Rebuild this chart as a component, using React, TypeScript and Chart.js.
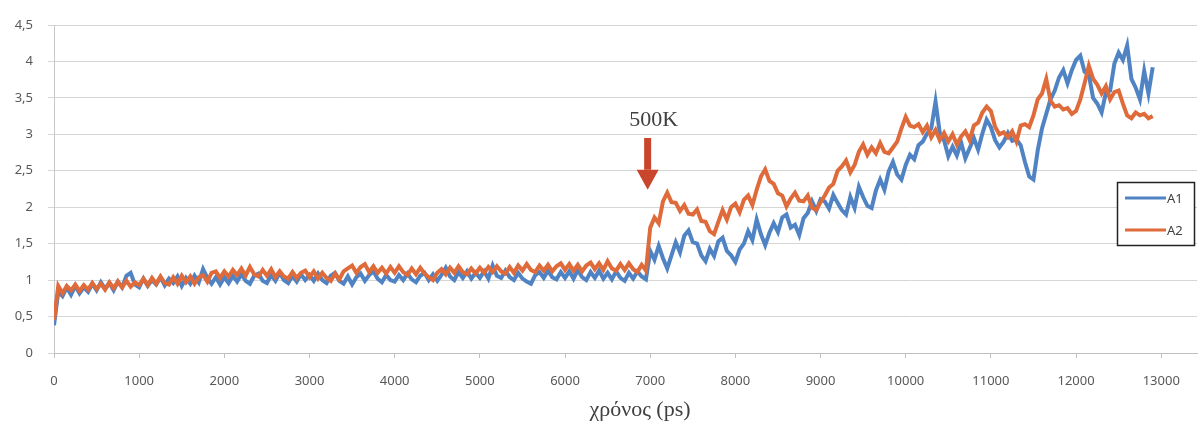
import React, { useEffect, useRef } from "react";
import { Chart, registerables } from "chart.js";

Chart.register(...registerables);

const TIME_STEP_PS = 50;

const A1_VALUES: number[] = [
  // 0 - 950
  0.38, 0.84, 0.78, 0.90, 0.80, 0.92, 0.82, 0.90, 0.84, 0.95, 0.86, 0.97, 0.88, 0.96, 0.86, 0.98, 0.90, 1.06, 1.10, 0.94,
  // 1000 - 1950
  0.90, 1.02, 0.92, 1.00, 0.94, 1.04, 0.93, 1.02, 0.96, 1.05, 0.92, 1.03, 0.95, 1.06, 0.97, 1.15, 1.03, 0.95, 1.04, 0.94,
  // 2000 - 2950
  1.04, 0.96, 1.06, 0.98, 1.08, 0.99, 0.95, 1.06, 1.09, 0.99, 0.96, 1.07, 0.99, 1.10, 1.00, 0.96, 1.06, 0.98, 1.08, 1.00,
  // 3000 - 3950
  1.07, 0.99, 1.09, 1.00, 0.96, 1.06, 1.10, 0.99, 0.95, 1.05, 0.94, 1.04, 1.09, 0.99, 1.07, 1.12, 1.02, 0.97, 1.07, 1.00,
  // 4000 - 4950
  0.98, 1.07, 1.00, 1.09, 1.01, 0.97, 1.06, 1.10, 1.00, 1.08, 0.99, 1.07, 1.17, 1.05, 1.00, 1.11, 1.03, 1.12, 1.02, 1.10,
  // 5000 - 5950
  1.03, 1.12, 1.02, 1.20, 1.06, 1.03, 1.13, 1.04, 1.00, 1.10, 1.02, 0.98, 0.95, 1.07, 1.11, 1.03, 1.13, 1.04, 1.01, 1.11,
  // 6000 - 6950
  1.03, 1.12, 1.02, 1.14, 1.04, 1.00, 1.11, 1.03, 1.13, 1.02, 1.10, 1.01, 1.12, 1.03, 0.99, 1.10, 1.02, 1.12, 1.05, 1.01,
  // 7000 - 7950
  1.40, 1.28, 1.47, 1.30, 1.16, 1.34, 1.52, 1.38, 1.61, 1.68, 1.52, 1.50, 1.34, 1.26, 1.43, 1.33, 1.53, 1.58, 1.40, 1.34,
  // 8000 - 8950
  1.25, 1.42, 1.50, 1.67, 1.55, 1.83, 1.63, 1.48, 1.65, 1.78, 1.66, 1.86, 1.90, 1.72, 1.76, 1.62, 1.85, 1.92, 2.08, 1.95,
  // 9000 - 9950
  2.11, 2.08, 1.98, 2.17, 2.06, 1.96, 1.90, 2.14, 1.99, 2.28, 2.14, 2.02, 1.99, 2.23, 2.38, 2.24, 2.49, 2.62, 2.45, 2.38,
  // 10000 - 10950
  2.58, 2.72, 2.66, 2.85, 2.90, 3.01, 3.08, 3.45, 3.02, 2.92, 2.70, 2.83, 2.71, 2.89, 2.67, 2.81, 2.95, 2.79, 3.01, 3.20,
  // 11000 - 11950
  3.10, 2.92, 2.82, 2.90, 3.02, 2.91, 2.93, 2.85, 2.62, 2.42, 2.38, 2.78, 3.08, 3.28, 3.48, 3.60, 3.78, 3.88, 3.70, 3.88,
  // 12000 - 12900
  4.02, 4.08, 3.86, 3.82, 3.50, 3.42, 3.30, 3.57, 3.60, 3.97, 4.12, 4.02, 4.22, 3.76, 3.64, 3.48, 3.87, 3.56, 3.92,
];

const A2_VALUES: number[] = [
  // 0 - 950
  0.45, 0.92, 0.82, 0.92, 0.86, 0.94, 0.85, 0.93, 0.87, 0.96, 0.88, 0.95, 0.87, 0.97, 0.89, 0.98, 0.90, 0.99, 0.91, 0.97,
  // 1000 - 1950
  0.93, 1.02, 0.93, 1.03, 0.95, 1.05, 0.96, 0.94, 1.04, 0.95, 1.06, 0.97, 1.05, 0.95, 1.04, 1.07, 0.98, 1.10, 1.12, 1.03,
  // 2000 - 2950
  1.12, 1.05, 1.14, 1.07, 1.16, 1.06, 1.18, 1.08, 1.05, 1.14, 1.06, 1.15, 1.04, 1.12, 1.05, 1.02, 1.11, 1.03, 1.10, 1.13,
  // 3000 - 3950
  1.04, 1.12, 1.02, 1.10, 1.03, 0.99, 1.09, 1.01, 1.12, 1.16, 1.20, 1.10, 1.18, 1.22, 1.11, 1.19, 1.10, 1.17, 1.09, 1.18,
  // 4000 - 4950
  1.10, 1.19, 1.11, 1.07, 1.16, 1.08, 1.17, 1.09, 1.04, 1.00, 1.10, 1.15, 1.08, 1.17, 1.10, 1.19, 1.11, 1.08, 1.16, 1.09,
  // 5000 - 5950
  1.17, 1.10, 1.18, 1.11, 1.19, 1.12, 1.09, 1.18, 1.10, 1.20, 1.13, 1.22, 1.14, 1.11, 1.20, 1.13, 1.21, 1.12, 1.19, 1.23,
  // 6000 - 6950
  1.14, 1.22, 1.13, 1.21, 1.12, 1.20, 1.24, 1.15, 1.23, 1.14, 1.26, 1.16, 1.13, 1.22, 1.14, 1.23, 1.15, 1.11, 1.21, 1.13,
  // 7000 - 7950
  1.72, 1.86, 1.78, 2.08, 2.20, 2.07, 2.06, 1.95, 2.03, 1.91, 1.90, 1.97, 1.81, 1.80, 1.67, 1.63, 1.80, 1.96, 1.83, 2.00,
  // 8000 - 8950
  2.05, 1.93, 2.10, 2.16, 2.03, 2.24, 2.42, 2.52, 2.36, 2.32, 2.19, 2.16, 2.01, 2.12, 2.20, 2.09, 2.08, 2.16, 1.99, 1.96,
  // 9000 - 9950
  2.07, 2.16, 2.27, 2.32, 2.50, 2.56, 2.64, 2.48, 2.58, 2.76, 2.86, 2.72, 2.82, 2.74, 2.88, 2.76, 2.74, 2.82, 2.90, 3.08,
  // 10000 - 10950
  3.24, 3.12, 3.10, 3.14, 3.03, 3.12, 2.96, 3.06, 2.92, 3.02, 2.90, 3.00, 2.86, 2.97, 3.04, 2.92, 3.12, 3.16, 3.30, 3.38,
  // 11000 - 11950
  3.32, 3.10, 3.00, 3.03, 2.96, 3.04, 2.90, 3.12, 3.14, 3.10, 3.26, 3.48, 3.56, 3.76, 3.46, 3.38, 3.40, 3.34, 3.36, 3.28,
  // 12000 - 12900
  3.32, 3.48, 3.70, 3.94, 3.76, 3.68, 3.56, 3.66, 3.48, 3.58, 3.60, 3.42, 3.26, 3.22, 3.30, 3.26, 3.28, 3.22, 3.25,
];

const TIMES: number[] = A1_VALUES.map((_, i) => i * TIME_STEP_PS);

const X_TICKS = [0, 1000, 2000, 3000, 4000, 5000, 6000, 7000, 8000, 9000, 10000, 11000, 12000, 13000];
const Y_TICKS = [0, 0.5, 1, 1.5, 2, 2.5, 3, 3.5, 4, 4.5];
const X_MAX = 13420;

const SERIES_NAMES = ["A1", "A2"];
const SERIES_COLORS = ["#4f83c3", "#df6a3a"];

const X_TITLE = "χρόνος (ps)";
const EVENT_LABEL = "500K";
const EVENT_TIME = 6970;
const EVENT_LABEL_Y = 3.2;
const EVENT_ARROW_TOP = 2.95;
const EVENT_ARROW_TIP = 2.24;
const ARROW_COLOR = "#c9452b";

const overlayPlugin = {
  id: "overlay",
  afterDatasetsDraw(chart: any) {
    const { ctx, scales } = chart;
    const xs = scales.x;
    const ys = scales.y;
    ctx.save();

    // event arrow
    const ax = xs.getPixelForValue(EVENT_TIME);
    const aTop = ys.getPixelForValue(EVENT_ARROW_TOP);
    const aTip = ys.getPixelForValue(EVENT_ARROW_TIP);
    const headH = 20;
    ctx.fillStyle = ARROW_COLOR;
    ctx.fillRect(ax - 3.5, aTop, 7, aTip - headH - aTop);
    ctx.beginPath();
    ctx.moveTo(ax - 11, aTip - headH);
    ctx.lineTo(ax + 11, aTip - headH);
    ctx.lineTo(ax, aTip);
    ctx.closePath();
    ctx.fill();

    // event label
    ctx.fillStyle = "#404040";
    ctx.font = '22px "Liberation Serif", "DejaVu Serif", serif';
    ctx.textAlign = "center";
    ctx.textBaseline = "middle";
    ctx.fillText(EVENT_LABEL, ax + 6, ys.getPixelForValue(EVENT_LABEL_Y));

    // x-axis title
    ctx.fillText(X_TITLE, 640, 410);

    // legend
    const lx = 1117, ly = 182, lw = 77, lh = 63;
    ctx.fillStyle = "#ffffff";
    ctx.fillRect(lx, ly, lw, lh);
    ctx.strokeStyle = "#222222";
    ctx.lineWidth = 1.5;
    ctx.strokeRect(lx + 0.5, ly + 0.5, lw, lh);
    ctx.font = '13px "Noto Sans", "Open Sans", sans-serif';
    ctx.textAlign = "left";
    SERIES_NAMES.forEach((name, i) => {
      const yy = ly + 16 + i * 32;
      ctx.strokeStyle = SERIES_COLORS[i];
      ctx.lineWidth = 3;
      ctx.beginPath();
      ctx.moveTo(lx + 8, yy);
      ctx.lineTo(lx + 49, yy);
      ctx.stroke();
      ctx.fillStyle = "#404040";
      ctx.fillText(name, lx + 50, yy + 1);
    });
    ctx.restore();
  },
};

export default function App() {
  const canvasRef = useRef<HTMLCanvasElement | null>(null);

  useEffect(() => {
    document.body.style.margin = "0";
    const canvas = canvasRef.current;
    if (!canvas) return;
    const chart = new Chart(canvas, {
      type: "line",
      data: {
        datasets: [
          {
            label: SERIES_NAMES[0],
            data: TIMES.map((t, i) => ({ x: t, y: A1_VALUES[i] })),
            borderColor: SERIES_COLORS[0],
            borderWidth: 4,
            pointRadius: 0,
            tension: 0,
            order: 1,
          },
          {
            label: SERIES_NAMES[1],
            data: TIMES.map((t, i) => ({ x: t, y: A2_VALUES[i] })),
            borderColor: SERIES_COLORS[1],
            borderWidth: 4,
            pointRadius: 0,
            tension: 0,
            order: 0,
          },
        ],
      },
      options: {
        animation: false,
        responsive: false,
        maintainAspectRatio: false,
        layout: { padding: { top: 25, right: 4, left: 0, bottom: 0 } },
        plugins: {
          legend: { display: false },
          tooltip: { enabled: false },
        },
        scales: {
          x: {
            type: "linear",
            min: 0,
            max: X_MAX,
            afterBuildTicks: (scale: any) => {
              scale.ticks = X_TICKS.map((v) => ({ value: v }));
            },
            afterFit: (scale: any) => {
              scale.height = 71;
            },
            grid: {
              drawOnChartArea: false,
              drawTicks: true,
              tickLength: 5,
              color: "#bfbfbf",
            },
            border: { color: "#bfbfbf", width: 1 },
            ticks: {
              color: "#595959",
              font: { family: '"Noto Sans", "Open Sans", sans-serif', size: 13 },
              padding: 15,
              maxRotation: 0,
              autoSkip: false,
              callback: (v: any) => String(v),
            },
          },
          y: {
            type: "linear",
            min: 0,
            max: 4.5,
            afterBuildTicks: (scale: any) => {
              scale.ticks = Y_TICKS.map((v) => ({ value: v }));
            },
            afterFit: (scale: any) => {
              scale.width = 54;
            },
            grid: {
              color: "#d6d6d6",
              drawTicks: true,
              tickLength: 6,
            },
            border: { color: "#c8c8c8", width: 1 },
            ticks: {
              color: "#595959",
              font: { family: '"Noto Sans", "Open Sans", sans-serif', size: 13 },
              padding: 15,
              callback: (v: any) => String(v).replace(".", ","),
            },
          },
        },
      },
      plugins: [overlayPlugin],
    });
    return () => chart.destroy();
  }, []);

  return (
    <div style={{ position: "absolute", left: 0, top: 0, width: 1201, height: 424, background: "#ffffff" }}>
      <canvas ref={canvasRef} width={1201} height={424} style={{ width: 1201, height: 424, display: "block" }} />
    </div>
  );
}
